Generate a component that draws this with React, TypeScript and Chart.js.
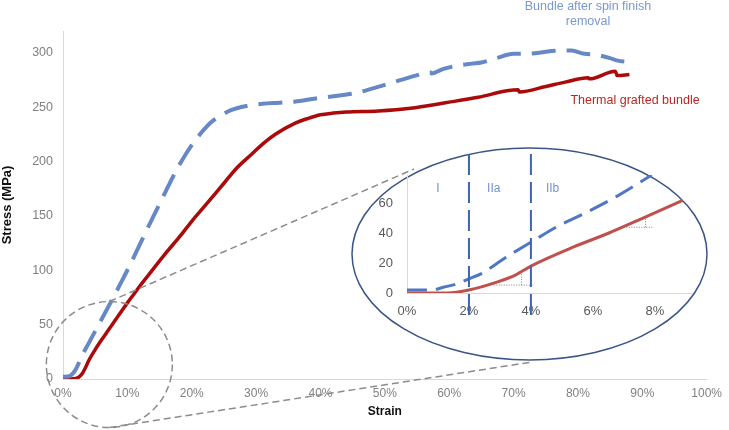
import React, { useEffect, useRef } from 'react';
import { Chart, registerables } from 'chart.js';

Chart.register(...registerables);

const FONT = '"Liberation Sans", Arial, sans-serif';

// ---- Main chart data (strain in %, stress in MPa) ----
const blueStrain = [0, 1, 1.5, 2, 3, 4, 5, 6, 7, 8, 9, 10, 11, 12, 13, 14, 15, 16, 17, 18, 19, 20, 21, 22, 23, 24, 25, 26, 27, 28.5, 31, 33.6, 36, 39.3, 42, 45.5, 48, 50.3, 52.5, 54.8, 57, 57.3, 59, 61.1, 63.5, 65, 67.3, 70, 72, 74, 75, 77, 79, 81, 83, 85, 86, 88.7];
const blueStress = [2, 2.5, 5, 9, 22, 33, 44, 55, 66, 77, 88.5, 100, 112, 124.5, 137, 149, 161, 173, 185, 196, 206, 215, 223, 230, 236, 240.5, 244, 247, 249, 251, 253, 254, 255, 258, 260, 263, 267, 271, 275, 279, 282, 281, 285, 288, 290, 291, 295, 299, 299, 300, 301, 302, 302, 299, 298, 295, 293, 291];

const redStrain = [0, 1, 2, 2.5, 3, 3.5, 4, 5, 6, 7, 8, 9, 10, 11, 12, 14, 16, 18, 20, 22.3, 25, 27, 29, 31, 33, 36, 38, 40, 42, 44, 49, 54, 59.4, 64.5, 69, 70.7, 70.9, 75, 78, 81.6, 81.8, 85.8, 86.1, 88];
const redStress = [0, 0, 0.5, 2, 5, 10.5, 17, 27, 36, 44.5, 53, 61.5, 70, 78, 86, 101, 116, 130, 145, 161, 180, 194, 205, 216, 225, 235, 239.5, 243, 244.5, 245.5, 246.5, 249, 254, 259, 265, 266, 264, 269, 273, 277, 276, 283, 279, 280];

const seriesNames = ['Bundle after spin finish removal', 'Thermal grafted bundle'];
const xAxisTitle = 'Strain';
const yAxisTitle = 'Stress (MPa)';

// ---- Inset (zoom on 0–9 % strain) ----
const insetBlueStrain = [0, 0.8, 1.2, 1.6, 2, 2.4, 3.2, 4, 4.9, 5.7, 6.8, 7.9];
const insetBlueStress = [2, 2, 4, 6, 9.5, 13, 24, 34, 45, 53, 65, 79];
const insetRedStrain = [0, 1.3, 2, 2.9, 3.5, 4, 5.4, 6.5, 7.6, 8.9];
const insetRedStress = [0, 0, 2, 7.3, 12, 18, 31, 40, 50, 62];

const phaseBoundaries = [2, 4];
const phaseLabels = ['I', 'IIa', 'IIb'];
const phaseLabelStrain = [1, 2.8, 4.7];
const phaseLabelStress = 70;

const slopeRunStrain = [[2.8, 4.1], [7.0, 7.95]];
const slopeRunStress = [5.3, 44];
const slopeRiseStrain = [3.7, 7.7];
const slopeRiseStress = [[5.3, 14], [44, 51]];

// zoomed region marker on the main chart (strain %, stress MPa)
const zoomCenter = [7.2, 13.3];

const pts = (xs: number[], ys: number[]) => xs.map((x, i) => ({ x, y: ys[i] }));

const mainDecor = {
  id: 'mainDecor',
  afterDraw(chart: any) {
    const { ctx, scales } = chart;
    const xs = scales.x;
    const ys = scales.y;
    const cx = xs.getPixelForValue(zoomCenter[0]);
    const cy = ys.getPixelForValue(zoomCenter[1]);
    const r = 63;
    const ex = 529.5, ey = 254, erx = 177.5, ery = 106;
    ctx.save();
    ctx.strokeStyle = '#8c8c8c';
    ctx.lineWidth = 1.5;
    ctx.setLineDash([7, 4]);
    ctx.beginPath();
    ctx.arc(cx, cy, r, 0, Math.PI * 2);
    ctx.stroke();
    ctx.beginPath();
    ctx.moveTo(cx, cy - r);
    ctx.lineTo(414, 169);
    ctx.stroke();
    ctx.beginPath();
    ctx.moveTo(cx, cy + r);
    ctx.lineTo(532, 362);
    ctx.stroke();
    ctx.setLineDash([]);
    ctx.beginPath();
    ctx.ellipse(ex, ey, erx, ery, 0, 0, Math.PI * 2);
    ctx.fillStyle = '#ffffff';
    ctx.fill();
    ctx.strokeStyle = '#3b5486';
    ctx.lineWidth = 1.5;
    ctx.stroke();

    ctx.textAlign = 'center';
    ctx.textBaseline = 'middle';
    ctx.font = '12.5px ' + FONT;
    ctx.fillStyle = '#7a98d0';
    ctx.fillText('Bundle after spin finish', 588, 7);
    ctx.fillText('removal', 588, 22);
    ctx.fillStyle = '#b52a20';
    ctx.fillText(seriesNames[1], 635, 101);
    ctx.restore();
  },
};

const insetDecor = {
  id: 'insetDecor',
  afterDatasetsDraw(chart: any) {
    const { ctx, scales } = chart;
    const xs = scales.x;
    const ys = scales.y;
    ctx.save();
    ctx.strokeStyle = '#3d64b0';
    ctx.lineWidth = 2;
    ctx.setLineDash([21, 7]);
    phaseBoundaries.forEach((b) => {
      const px = xs.getPixelForValue(b);
      ctx.beginPath();
      ctx.moveTo(px, ys.getPixelForValue(93));
      ctx.lineTo(px, ys.getPixelForValue(-15.4));
      ctx.stroke();
    });
    ctx.setLineDash([]);
    ctx.fillStyle = '#7393d1';
    ctx.font = '12px ' + FONT;
    ctx.textAlign = 'center';
    ctx.textBaseline = 'middle';
    phaseLabels.forEach((t, i) => {
      ctx.fillText(t, xs.getPixelForValue(phaseLabelStrain[i]), ys.getPixelForValue(phaseLabelStress));
    });
    ctx.restore();
  },
};

export default function App() {
  const mainRef = useRef<HTMLCanvasElement | null>(null);
  const insetRef = useRef<HTMLCanvasElement | null>(null);

  useEffect(() => {
    Chart.defaults.font.family = FONT;
    const main = new Chart(mainRef.current as HTMLCanvasElement, {
      type: 'line',
      data: {
        datasets: [
          {
            label: seriesNames[0],
            data: pts(blueStrain, blueStress),
            borderColor: '#6689c6',
            borderWidth: 4,
            borderDash: [24, 11],
            borderCapStyle: 'butt',
            pointRadius: 0,
            cubicInterpolationMode: 'monotone',
            fill: false,
          },
          {
            label: seriesNames[1],
            data: pts(redStrain, redStress),
            borderColor: '#ab0a0a',
            borderWidth: 3.5,
            pointRadius: 0,
            cubicInterpolationMode: 'monotone',
            fill: false,
          },
        ],
      },
      options: {
        animation: false,
        responsive: false,
        maintainAspectRatio: false,
        layout: { padding: { top: 31, right: 16, left: 0, bottom: 0 } },
        plugins: { legend: { display: false }, tooltip: { enabled: false } },
        scales: {
          x: {
            type: 'linear',
            min: 0,
            max: 100,
            grid: { display: false, drawTicks: false },
            border: { display: true, color: '#d9d9d9', width: 1 },
            ticks: {
              stepSize: 10,
              autoSkip: false,
              maxRotation: 0,
              padding: 7,
              color: '#808080',
              font: { size: 12, family: FONT },
              callback: (v: any) => v + '%',
            },
            title: {
              display: true,
              text: xAxisTitle,
              color: '#111',
              font: { size: 12, weight: 'bold', family: FONT },
              padding: { top: 0, bottom: 11 },
            },
            afterFit: (s: any) => {
              s.height = 51;
            },
          },
          y: {
            type: 'linear',
            min: 0,
            max: 320,
            grid: { display: false, drawTicks: false },
            border: { display: true, color: '#d9d9d9', width: 1 },
            ticks: {
              stepSize: 50,
              includeBounds: false,
              padding: 10,
              color: '#808080',
              font: { size: 12.5, family: FONT },
            },
            title: {
              display: true,
              text: yAxisTitle,
              color: '#111',
              font: { size: 13, weight: 'bold', family: FONT },
              padding: { top: 0, bottom: 0 },
            },
            afterFit: (s: any) => {
              s.width = 63;
            },
          },
        },
      } as any,
      plugins: [mainDecor],
    });

    const slopeSets = slopeRunStrain.map((run, i) => ({
      data: [
        { x: run[0], y: slopeRunStress[i] },
        { x: run[1], y: slopeRunStress[i] },
        { x: slopeRiseStrain[i], y: null },
        { x: slopeRiseStrain[i], y: slopeRiseStress[i][0] },
        { x: slopeRiseStrain[i], y: slopeRiseStress[i][1] },
      ],
      borderColor: '#7f7f7f',
      borderWidth: 1,
      borderDash: [1, 1.5],
      pointRadius: 0,
      spanGaps: false,
      fill: false,
    }));

    const inset = new Chart(insetRef.current as HTMLCanvasElement, {
      type: 'line',
      data: {
        datasets: [
          ...slopeSets,
          {
            label: seriesNames[0],
            data: pts(insetBlueStrain, insetBlueStress),
            borderColor: '#4f77c3',
            borderWidth: 3,
            borderDash: [20, 9],
            pointRadius: 0,
            cubicInterpolationMode: 'monotone',
            fill: false,
          },
          {
            label: seriesNames[1],
            data: pts(insetRedStrain, insetRedStress),
            borderColor: '#c0504d',
            borderWidth: 3,
            pointRadius: 0,
            cubicInterpolationMode: 'monotone',
            fill: false,
          },
        ],
      } as any,
      options: {
        animation: false,
        responsive: false,
        maintainAspectRatio: false,
        layout: { padding: { top: 35, right: 28, left: 0, bottom: 0 } },
        plugins: { legend: { display: false }, tooltip: { enabled: false } },
        scales: {
          x: {
            type: 'linear',
            min: 0,
            max: 9.2,
            grid: { display: false, drawTicks: false },
            border: { display: true, color: '#d9d9d9', width: 1 },
            ticks: {
              stepSize: 2,
              includeBounds: false,
              autoSkip: false,
              maxRotation: 0,
              padding: 11,
              color: '#595959',
              font: { size: 13, family: FONT },
              callback: (v: any) => v + '%',
            },
            afterFit: (s: any) => {
              s.height = 77;
            },
          },
          y: {
            type: 'linear',
            min: 0,
            max: 79,
            grid: { display: false, drawTicks: false },
            border: { display: true, color: '#d9d9d9', width: 1 },
            ticks: {
              stepSize: 20,
              includeBounds: false,
              padding: 14,
              color: '#595959',
              font: { size: 13, family: FONT },
            },
            afterFit: (s: any) => {
              s.width = 67;
            },
          },
        },
      } as any,
      plugins: [insetDecor],
    });

    return () => {
      main.destroy();
      inset.destroy();
    };
  }, []);

  return (
    <div style={{ position: 'fixed', left: 0, top: 0, width: 729, height: 430, background: '#fff' }}>
      <canvas ref={mainRef} width={729} height={430} style={{ position: 'absolute', left: 0, top: 0, width: 729, height: 430 }} />
      <canvas ref={insetRef} width={380} height={230} style={{ position: 'absolute', left: 340, top: 140, width: 380, height: 230 }} />
    </div>
  );
}
